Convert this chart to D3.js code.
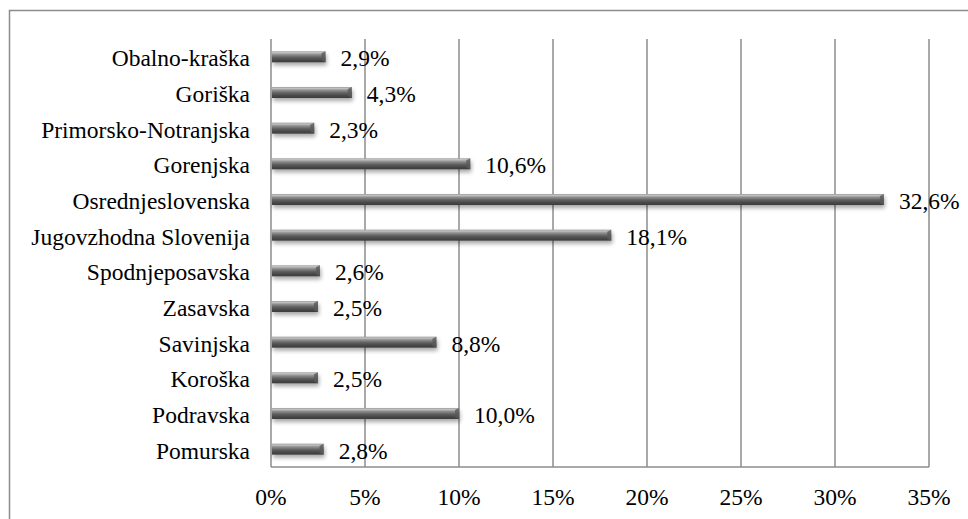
<!DOCTYPE html>
<html>
<head>
<meta charset="utf-8">
<script src="https://cdn.jsdelivr.net/npm/d3@7"></script>
<style>
  html, body { margin: 0; padding: 0; background: #fff; }
  svg { display: block; }
</style>
</head>
<body>
<svg id="chart" width="968" height="519"></svg>
<script>
// Regions, listed top to bottom as drawn
const regions = [
  "Obalno-kraška", "Goriška", "Primorsko-Notranjska", "Gorenjska",
  "Osrednjeslovenska", "Jugovzhodna Slovenija", "Spodnjeposavska",
  "Zasavska", "Savinjska", "Koroška", "Podravska", "Pomurska"
];
// Share per region, percent
const shares = [2.9, 4.3, 2.3, 10.6, 32.6, 18.1, 2.6, 2.5, 8.8, 2.5, 10.0, 2.8];
// X axis ticks
const xTicks = [0, 5, 10, 15, 20, 25, 30, 35];

const data = regions.map((r, i) => ({ region: r, value: shares[i] }));

const FONT = '"Liberation Serif"';
const FS = 23.5;
const svg = d3.select("#chart");
const margin = { top: 39, left: 271, right: 968 - 929, bottom: 519 - 467 };
const width = 968, height = 519;

const fmt = v => d3.format(".1f")(v).replace(".", ",") + "%";

// Outer chart frame (open on the right and bottom)
svg.append("path")
  .attr("d", `M9.5,${height} V10.5 H${width}`)
  .attr("fill", "none")
  .attr("stroke", "#8c8c8c")
  .attr("stroke-width", 1.5);

const x = d3.scaleLinear().domain([0, 35]).range([margin.left, width - margin.right]);
const y = d3.scaleBand().domain(regions).range([margin.top, height - margin.bottom]).paddingInner(0).paddingOuter(0);

const defs = svg.append("defs");
const grad = defs.append("linearGradient")
  .attr("id", "barGrad").attr("x1", 0).attr("y1", 0).attr("x2", 0).attr("y2", 1);
[[0, "#9a9a9a"], [0.12, "#c4c4c4"], [0.3, "#8e8e8e"], [0.55, "#606060"], [0.8, "#474747"], [1, "#3c3c3c"]]
  .forEach(([o, c]) => grad.append("stop").attr("offset", o).attr("stop-color", c));

const shadow = defs.append("filter").attr("id", "barShadow")
  .attr("x", "-5%").attr("y", "-50%").attr("width", "115%").attr("height", "250%");
shadow.append("feGaussianBlur").attr("in", "SourceAlpha").attr("stdDeviation", 2).attr("result", "blur");
shadow.append("feOffset").attr("in", "blur").attr("dx", 1).attr("dy", 3).attr("result", "off");
shadow.append("feComponentTransfer").attr("in", "off").attr("result", "soft")
  .append("feFuncA").attr("type", "linear").attr("slope", 0.35);
const merge = shadow.append("feMerge");
merge.append("feMergeNode").attr("in", "soft");
merge.append("feMergeNode").attr("in", "SourceGraphic");

// Vertical gridlines
svg.append("g")
  .selectAll("line")
  .data(xTicks)
  .join("line")
  .attr("x1", d => x(d)).attr("x2", d => x(d))
  .attr("y1", margin.top).attr("y2", height - margin.bottom)
  .attr("stroke", "#8c8c8c")
  .attr("stroke-width", 1.5);

// Bottom axis line
svg.append("line")
  .attr("x1", x(0)).attr("x2", x(35))
  .attr("y1", height - margin.bottom).attr("y2", height - margin.bottom)
  .attr("stroke", "#8c8c8c").attr("stroke-width", 1.5);

// X tick labels
svg.append("g")
  .selectAll("text")
  .data(xTicks)
  .join("text")
  .attr("x", d => x(d))
  .attr("y", 505)
  .attr("text-anchor", "middle")
  .style("font-family", FONT)
  .style("font-size", FS + "px")
  .text(d => d + "%");

// Category labels
svg.append("g")
  .selectAll("text")
  .data(data)
  .join("text")
  .attr("x", 250)
  .attr("y", d => y(d.region) + y.bandwidth() / 2 + 9.5)
  .attr("text-anchor", "end")
  .style("font-family", FONT)
  .style("font-size", FS + "px")
  .text(d => d.region);

// Bars
const barH = 11;
const bars = svg.append("g").selectAll("g").data(data).join("g")
  .attr("filter", "url(#barShadow)");

const barTop = d => y(d.region) + y.bandwidth() / 2 - barH / 2;

bars.append("rect")
  .attr("x", x(0) + 1)
  .attr("y", barTop)
  .attr("width", d => x(d.value) - x(0) - 1)
  .attr("height", barH)
  .attr("fill", "url(#barGrad)");

// Bevelled end cap
bars.append("path")
  .attr("d", d => {
    const xe = x(d.value), yt = barTop(d);
    return `M${xe - 4},${yt + 2} L${xe},${yt} L${xe},${yt + barH} L${xe - 4},${yt + barH - 2} Z`;
  })
  .attr("fill", "#5a5a5a")
  .attr("opacity", 0.8);

// Value labels
svg.append("g")
  .selectAll("text")
  .data(data)
  .join("text")
  .attr("x", d => x(d.value) + 15)
  .attr("y", d => y(d.region) + y.bandwidth() / 2 + 9.5)
  .style("font-family", FONT)
  .style("font-size", FS + "px")
  .text(d => fmt(d.value));
</script>
</body>
</html>
